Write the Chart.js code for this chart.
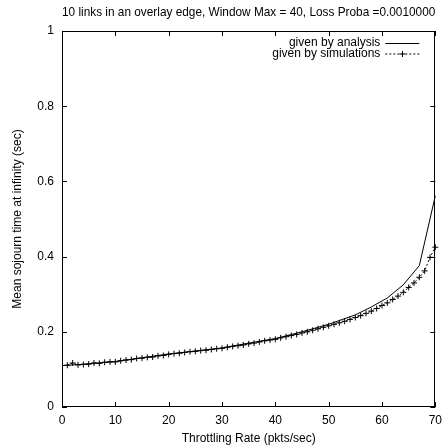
<!DOCTYPE html>
<html>
<head>
<meta charset="utf-8">
<script src="https://cdn.jsdelivr.net/npm/chart.js@4.4.1/dist/chart.umd.min.js"></script>
<style>
  html, body { margin: 0; padding: 0; background: #fff; }
  #wrap { width: 448px; height: 448px; }
</style>
</head>
<body>
<div id="wrap"><canvas id="myChart" width="448" height="448"></canvas></div>
<script>
// values
const analysisRate = [0, 5, 10, 15, 20, 25, 30, 35, 40, 45, 50, 55, 58, 61, 64, 67, 70];
const analysisTime = [0.110, 0.115, 0.121, 0.131, 0.141, 0.149, 0.157, 0.170, 0.182, 0.200,
    0.220, 0.245, 0.266, 0.290, 0.325, 0.376, 0.562];

const simRate = [1, 2, 3, 4, 5, 6, 7, 8, 9, 10, 11, 12, 13, 14, 15, 16, 17, 18, 19, 20,
    21, 22, 23, 24, 25, 26, 27, 28, 29, 30, 31, 32, 33, 34, 35, 36, 37, 38, 39, 40,
    41, 42, 43, 44, 45, 46, 47, 48, 49, 50, 51, 52, 53, 54, 55, 56, 57, 58, 59, 60,
    61, 62, 63, 64, 65, 66, 67, 68, 69, 70];
const simTime = [0.111, 0.117, 0.112, 0.113, 0.114, 0.117, 0.116, 0.119, 0.120, 0.120,
    0.123, 0.125, 0.126, 0.129, 0.130, 0.132, 0.133, 0.136, 0.137, 0.140,
    0.142, 0.143, 0.145, 0.147, 0.148, 0.150, 0.151, 0.153, 0.155, 0.156,
    0.159, 0.161, 0.163, 0.165, 0.168, 0.170, 0.173, 0.176, 0.178, 0.180,
    0.184, 0.187, 0.190, 0.193, 0.197, 0.200, 0.204, 0.208, 0.212, 0.216,
    0.220, 0.224, 0.228, 0.233, 0.238, 0.243, 0.249, 0.255, 0.262, 0.270,
    0.277, 0.286, 0.295, 0.305, 0.318, 0.330, 0.345, 0.362, 0.398, 0.425];

const xTicks = [0, 10, 20, 30, 40, 50, 60, 70];
const yTicks = [0, 0.2, 0.4, 0.6, 0.8, 1];

const FONT = "'Liberation Sans', Arial, sans-serif";

function toPoints(xs, ys) {
    return xs.map((x, i) => ({ x: x, y: ys[i] }));
}

// frame, inward ticks on all four sides, and the legend inside the plot
const framePlugin = {
    id: 'frame',
    afterDraw(chart) {
        const ctx = chart.ctx;
        const a = chart.chartArea;
        const xs = chart.scales.x;
        const ys = chart.scales.y;
        ctx.save();
        ctx.strokeStyle = '#000';
        ctx.lineWidth = 1;
        ctx.strokeRect(Math.round(a.left) + 0.5, Math.round(a.top) + 0.5,
            Math.round(a.right - a.left) - 1, Math.round(a.bottom - a.top) - 1);
        ctx.beginPath();
        xTicks.forEach(v => {
            const px = Math.round(xs.getPixelForValue(v)) + 0.5;
            ctx.moveTo(px, a.bottom); ctx.lineTo(px, a.bottom - 5);
            ctx.moveTo(px, a.top); ctx.lineTo(px, a.top + 5);
        });
        yTicks.forEach(v => {
            const py = Math.round(ys.getPixelForValue(v)) + 0.5;
            ctx.moveTo(a.left, py); ctx.lineTo(a.left + 5, py);
            ctx.moveTo(a.right, py); ctx.lineTo(a.right - 5, py);
        });
        ctx.stroke();

        // legend
        const ds = chart.data.datasets;
        ctx.font = '12px ' + FONT;
        ctx.fillStyle = '#000';
        ctx.textAlign = 'right';
        ctx.textBaseline = 'middle';
        const textRight = a.right - 55;
        const x0 = a.right - 50, x1 = a.right - 16;
        const rows = [a.top + 12, a.top + 22.5];
        ctx.fillText(ds[0].label, textRight, rows[0]);
        ctx.fillText(ds[1].label, textRight, rows[1]);
        ctx.beginPath();
        ctx.moveTo(x0, rows[0] + 0.5); ctx.lineTo(x1, rows[0] + 0.5);
        ctx.stroke();
        ctx.setLineDash([2, 2]);
        ctx.beginPath();
        ctx.moveTo(x0, rows[1] + 0.5); ctx.lineTo(x1, rows[1] + 0.5);
        ctx.stroke();
        ctx.setLineDash([]);
        const cx = Math.round((x0 + x1) / 2) + 0.5;
        ctx.beginPath();
        ctx.moveTo(cx - 3, rows[1] + 0.5); ctx.lineTo(cx + 3, rows[1] + 0.5);
        ctx.moveTo(cx, rows[1] - 2.5); ctx.lineTo(cx, rows[1] + 3.5);
        ctx.stroke();
        ctx.restore();
    }
};

var ctx = document.getElementById('myChart').getContext('2d');
var myChart = new Chart(ctx, {
    type: 'scatter',
    data: {
        datasets: [{
            label: 'given by analysis',
            data: toPoints(analysisRate, analysisTime),
            showLine: true,
            borderColor: '#000',
            borderWidth: 1,
            pointRadius: 0,
            tension: 0,
            clip: false
        }, {
            label: 'given by simulations',
            data: toPoints(simRate, simTime),
            showLine: true,
            borderColor: '#000',
            borderWidth: 1,
            borderDash: [2, 2],
            pointStyle: 'cross',
            pointRadius: 3,
            pointBorderWidth: 1,
            pointBorderColor: '#000',
            tension: 0,
            clip: false
        }]
    },
    options: {
        responsive: false,
        animation: false,
        layout: { padding: { left: 0, right: 10, top: 0, bottom: 0 } },
        plugins: {
            legend: { display: false },
            tooltip: { enabled: false },
            title: {
                display: true,
                text: '10 links in an overlay edge, Window Max = 40, Loss Proba =0.0010000',
                fullSize: false,
                color: '#000',
                font: { family: FONT, size: 13, weight: 'normal' },
                padding: { top: 4.2, bottom: 11.2 }
            }
        },
        scales: {
            x: {
                type: 'linear',
                min: 0,
                max: 70,
                afterBuildTicks: s => { s.ticks = xTicks.map(v => ({ value: v })); },
                afterFit: s => { s.height = 41; },
                grid: { display: false, drawTicks: false },
                border: { display: false },
                ticks: {
                    color: '#000',
                    padding: 6,
                    maxRotation: 0,
                    font: { family: FONT, size: 12 },
                    callback: v => String(v)
                },
                title: {
                    display: true,
                    text: 'Throttling Rate (pkts/sec)',
                    color: '#000',
                    font: { family: FONT, size: 12 },
                    padding: { top: 0, bottom: 1.8 }
                }
            },
            y: {
                type: 'linear',
                min: 0,
                max: 1,
                afterBuildTicks: s => { s.ticks = yTicks.map(v => ({ value: v })); },
                afterFit: s => { s.width = 62; },
                grid: { display: false, drawTicks: false },
                border: { display: false },
                ticks: {
                    color: '#000',
                    padding: 8,
                    font: { family: FONT, size: 12 },
                    callback: v => String(v)
                },
                title: {
                    display: true,
                    text: 'Mean sojourn time at infinity (sec)',
                    color: '#000',
                    font: { family: FONT, size: 12 },
                    padding: { top: 10.8, bottom: 0 }
                }
            }
        }
    },
    plugins: [framePlugin]
});
</script>
</body>
</html>
